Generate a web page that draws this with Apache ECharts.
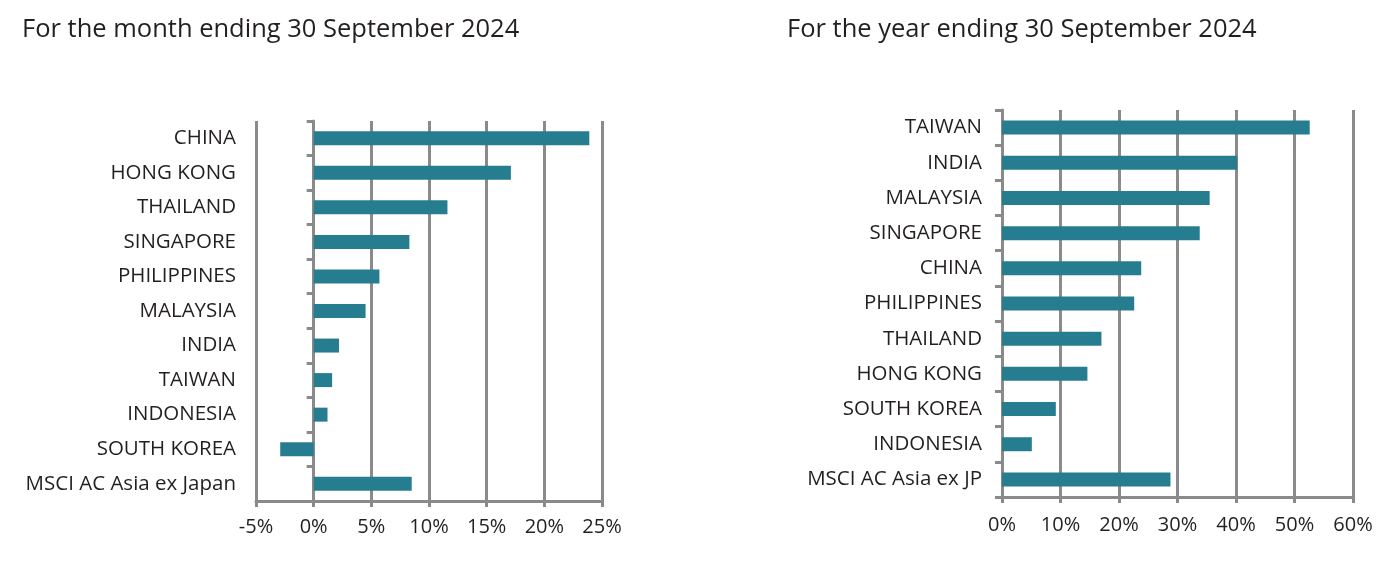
<!DOCTYPE html>
<html>
<head>
<meta charset="utf-8">
<script src="https://cdn.jsdelivr.net/npm/echarts@6/dist/echarts.min.js"></script>
<style>
  html, body { margin: 0; padding: 0; background: #fff; }
  #chart { width: 1396px; height: 563px; }
</style>
</head>
<body>
<div id="chart"></div>
<script>
  // month ending 30 September 2024
  const monthNames = ['CHINA', 'HONG KONG', 'THAILAND', 'SINGAPORE', 'PHILIPPINES', 'MALAYSIA',
    'INDIA', 'TAIWAN', 'INDONESIA', 'SOUTH KOREA', 'MSCI AC Asia ex Japan']
  const monthValues = [23.9, 17.1, 11.6, 8.3, 5.7, 4.5, 2.2, 1.6, 1.2, -2.9, 8.5]

  // year ending 30 September 2024
  const yearNames = ['TAIWAN', 'INDIA', 'MALAYSIA', 'SINGAPORE', 'CHINA', 'PHILIPPINES',
    'THAILAND', 'HONG KONG', 'SOUTH KOREA', 'INDONESIA', 'MSCI AC Asia ex JP']
  const yearValues = [52.6, 40.2, 35.5, 33.8, 23.8, 22.6, 17.0, 14.6, 9.2, 5.1, 28.8]

  const grey = '#8a8a8a'
  const textColor = '#231f20'
  const barColor = '#277d90'
  const font = '"Open Sans", "Noto Sans", sans-serif'

  let chart = echarts.init(document.getElementById('chart'))

  function valueAxis(gridIndex, min, max, interval, margin) {
    return {
      type: 'value',
      gridIndex: gridIndex,
      min: min,
      max: max,
      interval: interval,
      axisLine: {show: true, lineStyle: {color: grey, width: 3}},
      axisTick: {show: true, length: 6, lineStyle: {color: grey, width: 3}},
      splitLine: {show: true, lineStyle: {color: grey, width: 3}},
      axisLabel: {
        formatter: '{value}%', color: textColor, fontSize: 20, fontFamily: font, margin: margin
      }
    }
  }

  function labelAxis(gridIndex, names) {
    return {
      type: 'category',
      gridIndex: gridIndex,
      data: names,
      inverse: true,
      axisLine: {show: false, onZero: false},
      axisTick: {show: false},
      splitLine: {show: false},
      axisLabel: {color: textColor, fontSize: 20.5, fontFamily: font, margin: 20}
    }
  }

  function zeroAxis(gridIndex, names) {
    return {
      type: 'category',
      gridIndex: gridIndex,
      data: names,
      inverse: true,
      position: 'left',
      axisLine: {show: true, onZero: true, lineStyle: {color: grey, width: 3}},
      axisTick: {show: true, length: 7, lineStyle: {color: grey, width: 3}},
      axisLabel: {show: false},
      splitLine: {show: false}
    }
  }

  chart.setOption({
    animation: false,
    title: [
      {
        text: 'For the month ending 30 September 2024', left: 17, top: 12,
        textStyle: {color: textColor, fontSize: 25.5, fontWeight: 'normal', fontFamily: font}
      },
      {
        text: 'For the year ending 30 September 2024', left: 782, top: 12,
        textStyle: {color: textColor, fontSize: 25.5, fontWeight: 'normal', fontFamily: font}
      }
    ],
    grid: [
      {left: 256, top: 121, width: 346, height: 380},
      {left: 1002, top: 110, width: 351, height: 387}
    ],
    xAxis: [
      valueAxis(0, -5, 25, 5, 16),
      valueAxis(1, 0, 60, 10, 18)
    ],
    yAxis: [
      labelAxis(0, monthNames),
      zeroAxis(0, monthNames),
      labelAxis(1, yearNames),
      zeroAxis(1, yearNames)
    ],
    series: [
      {
        type: 'bar', xAxisIndex: 0, yAxisIndex: 0, data: monthValues,
        barWidth: 14, itemStyle: {color: barColor}, z: 1
      },
      {
        type: 'bar', xAxisIndex: 1, yAxisIndex: 2, data: yearValues,
        barWidth: 14, itemStyle: {color: barColor}, z: 1
      }
    ]
  })
</script>
</body>
</html>
